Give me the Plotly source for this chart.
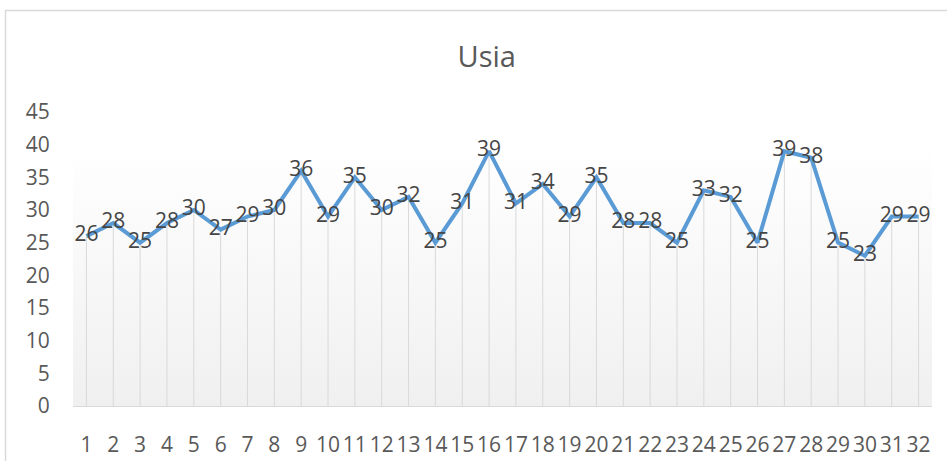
import plotly.graph_objects as go

categories = list(range(1, 33))
usia = [26, 28, 25, 28, 30, 27, 29, 30, 36, 29, 35, 30, 32, 25, 31, 39,
        31, 34, 29, 35, 28, 28, 25, 33, 32, 25, 39, 38, 25, 23, 29, 29]
y_ticks = [0, 5, 10, 15, 20, 25, 30, 35, 40, 45]
title_text = "Usia"
backdrop_top = 40

FONT = "Open Sans, Roboto, sans-serif"
TXT = "#595959"

W, H = 947, 461
L, R, T, B = 73, 15, 112, 55
pw = W - L - R
ph = H - T - B

fig = go.Figure()

# gradient backdrop of the plot area
fig.add_trace(go.Scatter(
    x=[categories[0] - 0.5, categories[-1] + 0.5],
    y=[backdrop_top, backdrop_top],
    mode="lines", line=dict(width=0),
    fill="tozeroy",
    fillgradient=dict(type="vertical", start=0, stop=backdrop_top,
                      colorscale=[[0, "#f0f0f0"], [1, "#ffffff"]]),
    hoverinfo="skip", showlegend=False))

# drop lines
dx, dy = [], []
for c, v in zip(categories, usia):
    dx += [c, c, None]
    dy += [0, v, None]
fig.add_trace(go.Scatter(x=dx, y=dy, mode="lines",
                         line=dict(color="#d9d9d9", width=1),
                         hoverinfo="skip", showlegend=False))

# main line with labels
fig.add_trace(go.Scatter(
    x=categories, y=usia, mode="lines+text",
    line=dict(color="#5B9BD5", width=4),
    text=[str(v) for v in usia], textposition="middle center",
    textfont=dict(family=FONT, size=21, color="#454545"),
    showlegend=False, cliponaxis=False))

fig.update_layout(
    template="none",
    width=W, height=H,
    margin=dict(l=L, r=R, t=T, b=B, autoexpand=False),
    paper_bgcolor="white", plot_bgcolor="rgba(0,0,0,0)",
    title=dict(text=title_text, x=0.514, xanchor="center",
               xref="container", yref="container", y=1 - 57 / H, yanchor="middle",
               font=dict(family=FONT, size=29, color=TXT)),
    showlegend=False,
)

fig.update_xaxes(
    range=[categories[0] - 0.5, categories[-1] + 0.5], automargin=False,
    tickmode="array", tickvals=categories, ticktext=[str(c) for c in categories],
    tickangle=0, showgrid=False, zeroline=False,
    showline=True, linecolor="#d9d9d9", linewidth=1,
    ticks="outside", ticklen=20, tickcolor="rgba(0,0,0,0)",
    tickfont=dict(family=FONT, size=21, color=TXT))
fig.update_yaxes(
    range=[0, 45], tickmode="array", tickvals=y_ticks, automargin=False,
    showgrid=False, zeroline=False, showline=False,
    ticks="outside", ticklen=18, tickcolor="rgba(0,0,0,0)",
    tickfont=dict(family=FONT, size=21, color=TXT))

# outer chart border (partially visible)
fig.add_shape(type="rect", xref="paper", yref="paper",
              x0=(5.5 - L) / pw, x1=(W + 20 - L) / pw,
              y0=-(B + 20) / ph, y1=(H - B - 10.5) / ph,
              line=dict(color="#d9d9d9", width=1.5), fillcolor="rgba(0,0,0,0)",
              layer="below")

fig.write_html("out.html", config={"displayModeBar": False},
               post_script="document.body.style.margin='0';document.body.style.overflow='hidden';")
